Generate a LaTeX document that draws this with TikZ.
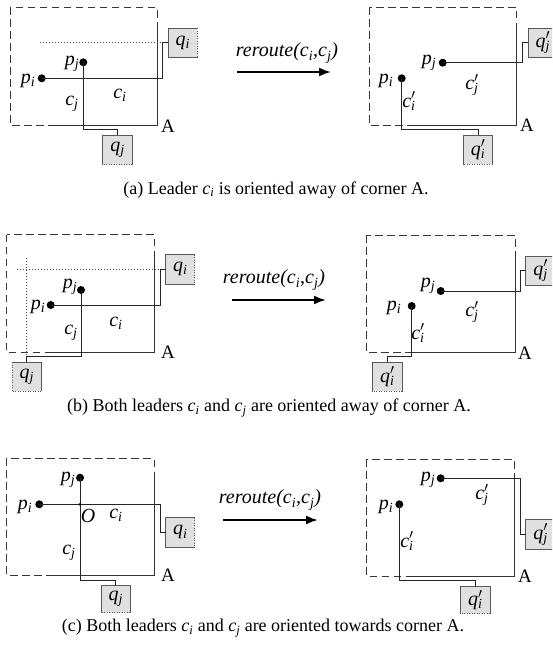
\documentclass[tikz,border=0pt]{standalone}
\usepackage{fontspec}
\setmainfont{Liberation Serif}
\usetikzlibrary{arrows.meta}
\newcommand{\lb}[2]{\textit{#1}\textsubscript{\textit{#2}}}
\newcommand{\lbp}[2]{\textit{#1}\rlap{$'$}\textsubscript{\textit{#2}}}
\tikzset{
  frame/.style={draw=black!78, line width=1pt, dash pattern=on 7.5pt off 4.5pt},
  corner/.style={draw=black!80, line width=1pt},
  leader/.style={draw=black!85, line width=0.9pt},
  guide/.style={draw=black!70, line width=0.8pt, dash pattern=on 1pt off 2pt},
  dot/.style={circle, fill=black, inner sep=0pt, minimum size=8pt},
  smalldot/.style={circle, fill=black, inner sep=0pt, minimum size=3pt},
  lbl/.style={inner sep=0pt, font=\fontsize{20}{24}\selectfont},
  albl/.style={inner sep=0pt, font=\fontsize{19}{22}\selectfont},
  qbox/.style={fill=black!12, inner sep=0pt, minimum width=29pt, minimum height=29pt, font=\fontsize{20}{24}\selectfont},
  boxline/.style={draw=black!65, line width=0.9pt},
  boxdot/.style={draw=black!65, line width=0.9pt, dash pattern=on 1pt off 1.5pt},
  capt/.style={inner sep=0pt, font=\fontsize{18}{22}\selectfont},
  rr/.style={inner sep=0pt, font=\fontsize{20}{24}\selectfont\itshape},
  bigarrow/.style={-{Latex[length=12pt,width=9pt]}, line width=2pt},
}
\begin{document}
\begin{tikzpicture}[x=1pt,y=-1pt]
\clip (0,0) rectangle (552,651);
\fill[white] (0,0) rectangle (552,651);

% ---------------- (a) left
\draw[frame] (10,7.3) rectangle (157,125);
\draw[corner] (157,23) -- (157,125) -- (52,125);
\draw[guide] (40,42.7) -- (162.7,42.7);
\node[qbox] (qa1) at (182.8,42.7) {\lb{q}{i}};
\node[qbox] (qa2) at (117.5,150) {\lb{q}{j}};
\draw[boxline] (qa1.south east) -- (qa1.south west) -- (qa1.north west) -- (qa1.north east);
\draw[boxdot] (qa1.north east) -- (qa1.south east);
\draw[boxline] (qa2.south west) -- (qa2.north west) -- (qa2.north east) -- (qa2.south east);
\draw[boxdot] (qa2.south east) -- (qa2.south west);
\node[dot] (pa1) at (41.7,78.3) {};
\node[dot] (pa2) at (83.3,62.3) {};
\draw[leader] (pa1.center) -| (162.7,42.7) -- (qa1.west);
\draw[leader] (pa2.center) |- (117.5,129.3) -- (qa2.north);
\node[lbl] (lpa1) at (28,81) {\lb{p}{i}};
\node[lbl] (lpa2) at (72,64) {\lb{p}{j}};
\node[lbl] (lca1) at (120,95) {\lb{c}{i}};
\node[lbl] (lca2) at (72,104) {\lb{c}{j}};
\node[albl] (lAa1) at (168,126) {A};

% arrow (a)
\node[rr] (rra) at (287,53) {reroute(\lb{c}{i},\lb{c}{j})};
\coordinate (ras) at (237,72);
\coordinate (rae) at (331,72);
\draw[bigarrow] (ras) -- (rae);

% ---------------- (a) right
\draw[frame] (369,7.3) rectangle (516.7,125);
\draw[corner] (516.7,23) -- (516.7,125) -- (410,125);
\node[qbox] (qb1) at (542.8,42.7) {\lbp{q}{j}};
\node[qbox] (qb2) at (478,149.8) {\lbp{q}{i}};
\draw[boxline] (qb1.north east) -- (qb1.north west) -- (qb1.south west) -- (qb1.south east);
\draw[boxline] (qb2.south west) -- (qb2.north west) -- (qb2.north east) -- (qb2.south east);
\draw[boxdot] (qb2.south east) -- (qb2.south west);
\node[dot] (pb1) at (401.7,78.3) {};
\node[dot] (pb2) at (442.7,62.7) {};
\draw[leader] (pb2.center) -| (522.3,42.7) -- (qb1.west);
\draw[leader] (pb1.center) |- (478,129.3) -- (qb2.north);
\node[lbl] (lpb1) at (386,81) {\lb{p}{i}};
\node[lbl] (lpb2) at (429,63) {\lb{p}{j}};
\node[lbl] (lcb2) at (472,85) {\lbp{c}{j}};
\node[lbl] (lcb1) at (409,101) {\lbp{c}{i}};
\node[albl] (lAb) at (527,125) {A};

\node[capt] (capa) at (276,190) {(a) Leader \lb{c}{i} is oriented away of corner A.};

% ---------------- (b) left
\draw[frame] (6.7,234.5) rectangle (154,352.7);
\draw[corner] (154,250.5) -- (154,352.7) -- (49,352.7);
\draw[guide] (16.7,269.3) -- (160,269.3);
\draw[guide] (26.7,258.3) -- (26.7,356.7);
\node[qbox] (qc1) at (180.2,269.3) {\lb{q}{i}};
\node[qbox] (qc2) at (26.7,376.7) {\lb{q}{j}};
\draw[boxline] (qc1.south east) -- (qc1.south west) -- (qc1.north west) -- (qc1.north east);
\draw[boxdot] (qc1.north east) -- (qc1.south east);
\draw[boxline] (qc2.north west) -- (qc2.north east) -- (qc2.south east);
\draw[boxdot] (qc2.south east) -- (qc2.south west) -- (qc2.north west);
\node[dot] (pc1) at (50.7,305) {};
\node[dot] (pc2) at (81,290) {};
\draw[leader] (pc1.center) -| (160,269.3) -- (qc1.west);
\draw[leader] (pc2.center) |- (26.7,356.7) -- (qc2.north);
\node[lbl] (lpc1) at (38,307) {\lb{p}{i}};
\node[lbl] (lpc2) at (70,287) {\lb{p}{j}};
\node[lbl] (lcc1) at (116,323) {\lb{c}{i}};
\node[lbl] (lcc2) at (71,333) {\lb{c}{j}};
\node[albl] (lAc) at (168,352) {A};

% arrow (b)
\node[rr] (rrb) at (274,280) {reroute(\lb{c}{i},\lb{c}{j})};
\coordinate (rbs) at (231.7,300);
\coordinate (rbe) at (326,300);
\draw[bigarrow] (rbs) -- (rbe);

% ---------------- (b) right
\draw[frame] (366.7,235) rectangle (515,352.7);
\draw[corner] (515,251) -- (515,352.7) -- (409,352.7);
\node[qbox] (qd1) at (540.5,270.7) {\lbp{q}{j}};
\node[qbox] (qd2) at (387.3,376.8) {\lbp{q}{i}};
\draw[boxline] (qd1.north east) -- (qd1.north west) -- (qd1.south west) -- (qd1.south east);
\draw[boxline] (qd2.south west) -- (qd2.north west) -- (qd2.north east) -- (qd2.south east);
\draw[boxdot] (qd2.south east) -- (qd2.south west);
\node[dot] (pd1) at (411.7,306) {};
\node[dot] (pd2) at (440.7,291) {};
\draw[leader] (pd2.center) -| (520.7,270.7) -- (qd1.west);
\draw[leader] (pd1.center) |- (387.3,356.7) -- (qd2.north);
\node[lbl] (lpd1) at (394,308) {\lb{p}{i}};
\node[lbl] (lpd2) at (428,286) {\lb{p}{j}};
\node[lbl] (lcd2) at (472,312) {\lbp{c}{j}};
\node[lbl] (lcd1) at (418,333) {\lbp{c}{i}};
\node[albl] (lAd) at (525,353) {A};

\node[capt] (capb) at (269,408) {(b) Both leaders \lb{c}{i} and \lb{c}{j} are oriented away of corner A.};

% ---------------- (c) left
\draw[frame] (6.7,458.3) rectangle (154,575);
\draw[corner] (154,474.3) -- (154,575) -- (49,575);
\node[qbox] (qe1) at (180.2,532.3) {\lb{q}{i}};
\node[qbox, minimum height=27pt] (qe2) at (115.7,599.2) {\lb{q}{j}};
\draw[boxline] (qe1.south east) -- (qe1.south west) -- (qe1.north west) -- (qe1.north east);
\draw[boxdot] (qe1.north east) -- (qe1.south east);
\draw[boxline] (qe2.south west) -- (qe2.north west) -- (qe2.north east) -- (qe2.south east);
\draw[boxdot] (qe2.south east) -- (qe2.south west);
\node[dot] (pe1) at (39.3,504.3) {};
\node[dot] (pe2) at (80,477.7) {};
\draw[leader] (pe1.center) -| (160.7,532.3) -- (qe1.west);
\draw[leader] (pe2.center) |- (115.7,580) -- (qe2.north);
\node[smalldot] (oe) at (80,504.3) {};
\node[lbl] (lpe1) at (25,507) {\lb{p}{i}};
\node[lbl] (lpe2) at (68,480) {\lb{p}{j}};
\node[lbl] (loe) at (88,516) {\textit{O}};
\node[lbl] (lce1) at (116,515) {\lb{c}{i}};
\node[lbl] (lce2) at (69,553) {\lb{c}{j}};
\node[albl] (lAe) at (168,575) {A};

% arrow (c)
\node[rr] (rrc) at (270,500) {reroute(\lb{c}{i},\lb{c}{j})};
\coordinate (rcs) at (223,520);
\coordinate (rce) at (318,520);
\draw[bigarrow] (rcs) -- (rce);

% ---------------- (c) right
\draw[frame] (366.7,459) rectangle (514.3,576);
\draw[corner] (514.3,475) -- (514.3,576) -- (408.3,576);
\node[qbox] (qf1) at (540.5,534.3) {\lbp{q}{j}};
\node[qbox, minimum height=27pt] (qf2) at (475.3,600.2) {\lbp{q}{i}};
\draw[boxline] (qf1.north east) -- (qf1.north west) -- (qf1.south west) -- (qf1.south east);
\draw[boxline] (qf2.south west) -- (qf2.north west) -- (qf2.north east) -- (qf2.south east);
\draw[boxdot] (qf2.south east) -- (qf2.south west);
\node[dot] (pf1) at (399.3,504.3) {};
\node[dot] (pf2) at (440.7,478.3) {};
\draw[leader] (pf2.center) -| (520.7,534.3) -- (qf1.west);
\draw[leader] (pf1.center) |- (475.3,580.7) -- (qf2.north);
\node[lbl] (lpf1) at (386,507) {\lb{p}{i}};
\node[lbl] (lpf2) at (428,480) {\lb{p}{j}};
\node[lbl] (lcf2) at (482,495) {\lbp{c}{j}};
\node[lbl] (lcf1) at (407,541) {\lbp{c}{i}};
\node[albl] (lAf) at (525,576) {A};

\node[capt] (capc) at (263,628) {(c) Both leaders \lb{c}{i} and \lb{c}{j} are oriented towards corner A.};
\end{tikzpicture}
\end{document}
